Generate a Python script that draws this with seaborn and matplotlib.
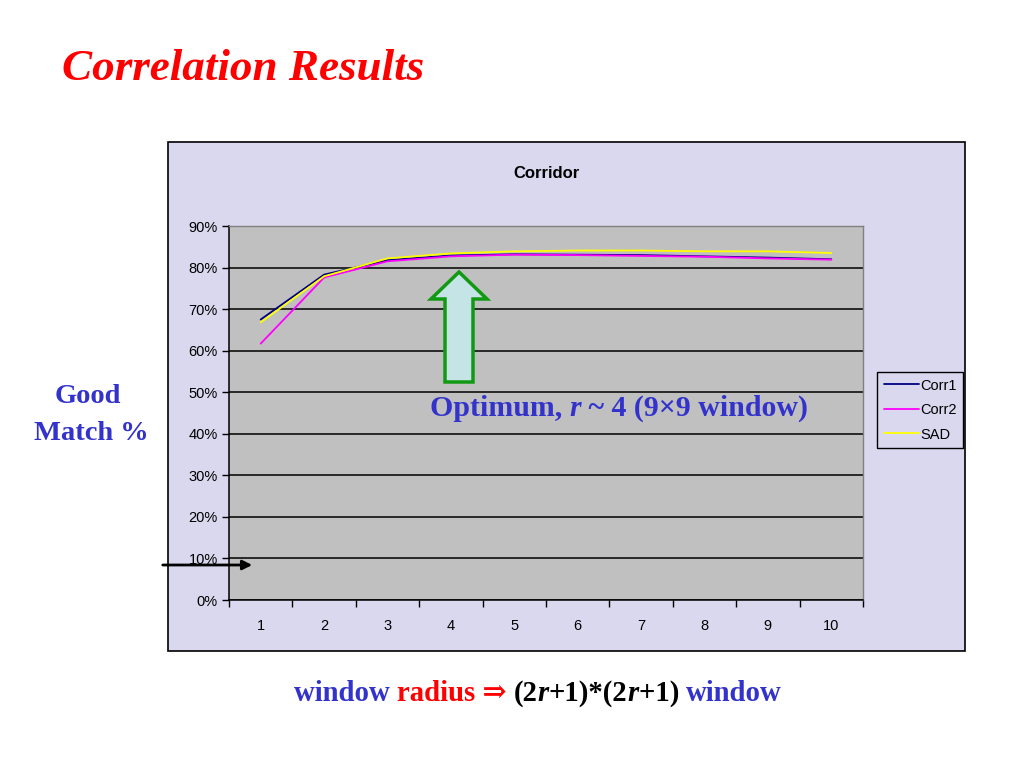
"""
Corridor correlation results: good match % against window radius.
"""

import pandas as pd
import matplotlib
matplotlib.use("Agg")
import matplotlib.pyplot as plt
from matplotlib.patches import Rectangle, Polygon
import seaborn as sns

# data
radius = [1, 2, 3, 4, 5, 6, 7, 8, 9, 10]
corr1 = [67.5, 78.3, 81.8, 82.9, 83.2, 83.1, 83.0, 82.7, 82.4, 82.0]
corr2 = [61.7, 77.6, 81.5, 82.7, 83.1, 83.0, 82.8, 82.6, 82.2, 81.9]
sad = [66.8, 77.9, 82.2, 83.4, 83.9, 84.1, 84.1, 83.9, 83.9, 83.5]
y_ticks = [0, 10, 20, 30, 40, 50, 60, 70, 80, 90]

series_names = ["Corr1", "Corr2", "SAD"]
series_colors = ["#000080", "#FF00FF", "#FFFF00"]

BLUE = "#3333CC"
RED = "#FF0000"
SERIF = ["Liberation Serif", "DejaVu Serif"]
W, H = 1024, 768


def fx(px):
    return px / W


def fy(py):
    return 1 - py / H


def draw_runs(fig, x, y, runs, size, ha="left"):
    """Draw a line of text made of differently styled pieces, on one baseline."""
    renderer = fig.canvas.get_renderer()
    pieces = []
    for text, color, style in runs:
        t = fig.text(0, y, text, color=color, fontsize=size, family=SERIF,
                     weight="bold", style=style, va="baseline", zorder=6)
        pieces.append(t)
    widths = [t.get_window_extent(renderer).width / W for t in pieces]
    total = sum(widths)
    start = x - total / 2 if ha == "center" else x
    for t, w in zip(pieces, widths):
        t.set_x(start)
        start += w


def main():
    sns.set_style("white")
    plt.rcParams["font.family"] = ["Liberation Sans", "DejaVu Sans"]

    df = pd.DataFrame({
        "radius": radius * 3,
        "match": corr1 + corr2 + sad,
        "method": ["Corr1"] * 10 + ["Corr2"] * 10 + ["SAD"] * 10,
    })

    fig = plt.figure(figsize=(W / 100, H / 100), dpi=100)
    fig.patch.set_facecolor("white")

    # lavender chart frame
    fig.patches.append(Rectangle((fx(168), fy(651)), fx(797), 509 / H,
                                 transform=fig.transFigure, facecolor="#DAD8EE",
                                 edgecolor="black", linewidth=1.2, zorder=-1))

    ax = fig.add_axes([fx(229), fy(600), fx(634), 374 / H])
    ax.set_facecolor("#C0C0C0")

    sns.lineplot(data=df, x="radius", y="match", hue="method",
                 palette=dict(zip(series_names, series_colors)),
                 linewidth=1.3, ax=ax, legend=False)

    ax.set_xlim(0.5, 10.5)
    ax.set_ylim(0, 90)
    ax.set_yticks(y_ticks)
    ax.set_yticklabels([f"{v}%" for v in y_ticks])
    ax.set_xticks(radius)
    ax.set_xticks([r - 0.5 for r in radius] + [10.5], minor=True)
    ax.tick_params(axis="x", which="major", bottom=True, length=0, pad=14,
                   labelsize=10.5, labelcolor="black")
    ax.tick_params(axis="x", which="minor", bottom=True, length=5, width=1,
                   color="black", direction="out")
    ax.tick_params(axis="y", left=True, length=5, width=1, color="black",
                   direction="out", labelsize=10.5, labelcolor="black", pad=3)
    ax.set_xlabel("")
    ax.set_ylabel("")
    ax.yaxis.grid(True, color="black", linewidth=1.1)
    ax.set_axisbelow(True)
    for side in ["left", "bottom"]:
        ax.spines[side].set_color("black")
        ax.spines[side].set_linewidth(1.1)
    for side in ["top", "right"]:
        ax.spines[side].set_color("#808080")
        ax.spines[side].set_linewidth(1.0)

    ax.set_title("Corridor", fontsize=12, weight="bold", color="black", pad=45,
                 y=0.96)

    handles = [plt.Line2D([], [], color=c, linewidth=1.3) for c in series_colors]
    leg = fig.legend(handles, series_names, loc="upper left",
                     bbox_to_anchor=(fx(877), fy(372)), fontsize=10.5,
                     frameon=True, fancybox=False, handlelength=2.4,
                     handletextpad=0.1, borderpad=0.45, labelspacing=0.72,
                     borderaxespad=0)
    for t in leg.get_texts():
        t.set_color("black")
    leg.get_frame().set_facecolor("#DAD8EE")
    leg.get_frame().set_edgecolor("black")
    leg.get_frame().set_linewidth(1.0)
    leg.get_frame().set_alpha(1)

    # slide title and labels
    fig.text(fx(62), fy(80), "Correlation Results", color=RED, fontsize=32.5,
             family=SERIF, weight="bold", style="italic", va="baseline")
    fig.text(fx(88), fy(403), "Good", color=BLUE, fontsize=20.5, family=SERIF,
             weight="bold", ha="center", va="baseline")
    fig.text(fx(91), fy(440), "Match %", color=BLUE, fontsize=20.5, family=SERIF,
             weight="bold", ha="center", va="baseline")

    draw_runs(fig, fx(430), fy(416), [
        ("Optimum, ", BLUE, "normal"),
        ("r", BLUE, "italic"),
        (" ~ 4 (9\u00d79 window)", BLUE, "normal"),
    ], size=21.5)

    draw_runs(fig, fx(538), fy(701), [
        ("window ", BLUE, "normal"),
        ("radius \u21d2 ", RED, "normal"),
        ("(2", "black", "normal"),
        ("r", "black", "italic"),
        ("+1)*(2", "black", "normal"),
        ("r", "black", "italic"),
        ("+1) ", "black", "normal"),
        ("window", BLUE, "normal"),
    ], size=20.7, ha="center")

    # green block arrow pointing at the optimum
    arrow = [(459, 272), (487, 299), (473, 299), (473, 382), (445, 382),
             (445, 299), (431, 299)]
    fig.patches.append(Polygon([(fx(a), fy(b)) for a, b in arrow], closed=True,
                               transform=fig.transFigure, facecolor="#C4E4E6",
                               edgecolor="#119911", linewidth=2.5, zorder=5))

    # black arrow at the 10% line
    fig.add_artist(plt.Annotation("", xy=(fx(255), fy(565)), xytext=(fx(160), fy(565)),
                                  xycoords="figure fraction",
                                  textcoords="figure fraction",
                                  arrowprops=dict(arrowstyle="-|>", color="black",
                                                  lw=2, mutation_scale=14)))

    fig.savefig("out.png", dpi=100, facecolor="white")


if __name__ == "__main__":
    main()
